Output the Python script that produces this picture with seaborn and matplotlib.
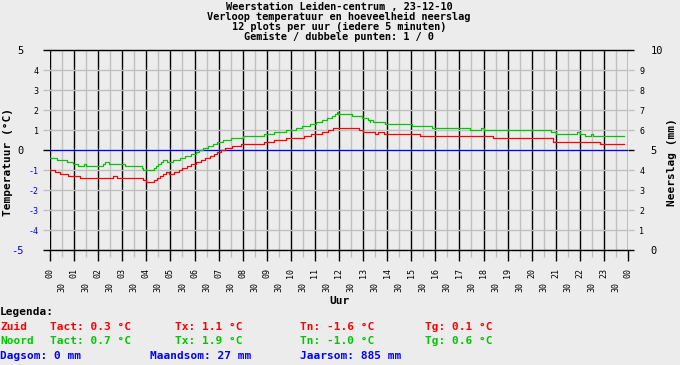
import numpy as np
import pandas as pd
import matplotlib
matplotlib.use('Agg')
import matplotlib.pyplot as plt
import seaborn as sns

# Temperature readings (hour of day, degC)
zuid_uur = [0.0, 0.2, 0.4, 0.75, 1.25, 2.6, 2.8, 3.85, 4.0, 4.3, 4.45, 4.57, 4.7, 4.8, 4.95,
            5.15, 5.35, 5.5, 5.7, 5.85, 6.05, 6.25, 6.45, 6.65, 6.8, 6.95, 7.1, 7.25, 7.55,
            7.95, 8.9, 9.3, 9.8, 10.55, 10.85, 11.3, 11.55, 11.75, 12.85, 13.0, 13.5, 13.6,
            13.85, 15.35, 18.4, 20.9, 22.85, 23.85]
zuid_temp = [-1.0, -1.1, -1.2, -1.3, -1.4, -1.3, -1.4, -1.5, -1.6, -1.5, -1.4, -1.3, -1.2, -1.1, -1.2,
             -1.1, -1.0, -0.9, -0.8, -0.7, -0.6, -0.5, -0.4, -0.3, -0.2, -0.1, 0.0, 0.1, 0.2,
             0.3, 0.4, 0.5, 0.6, 0.7, 0.8, 0.9, 1.0, 1.1, 1.0, 0.9, 0.8, 0.9,
             0.8, 0.7, 0.6, 0.4, 0.3, 0.3]

noord_uur = [0.0, 0.28, 0.69, 0.96, 1.16, 1.42, 1.5, 2.2, 2.3, 2.45, 3.1, 3.8, 3.85, 4.3, 4.4,
             4.5, 4.6, 4.7, 4.85, 5.1, 5.4, 5.6, 5.85, 6.05, 6.2, 6.35, 6.55, 6.75, 6.95, 7.2,
             7.5, 8.0, 8.9, 9.3, 9.8, 10.2, 10.45, 10.8, 11.05, 11.3, 11.5, 11.7, 11.85, 11.9,
             11.97, 12.55, 12.95, 13.2, 13.28, 13.3, 13.4, 13.9, 15.05, 15.85, 17.45, 17.9,
             18.0, 20.8, 21.0, 21.9, 22.0, 22.2, 22.45, 22.55, 23.85]
noord_temp = [-0.4, -0.5, -0.6, -0.7, -0.8, -0.7, -0.8, -0.7, -0.6, -0.7, -0.8, -0.9, -1.0, -0.9, -0.8,
              -0.7, -0.6, -0.5, -0.6, -0.5, -0.4, -0.3, -0.2, -0.1, 0.0, 0.1, 0.2, 0.3, 0.4, 0.5,
              0.6, 0.7, 0.8, 0.9, 1.0, 1.1, 1.2, 1.3, 1.4, 1.5, 1.6, 1.7, 1.8, 1.9,
              1.8, 1.7, 1.6, 1.5, 1.4, 1.5, 1.4, 1.3, 1.2, 1.1, 1.0, 1.1,
              1.0, 0.9, 0.8, 0.9, 0.8, 0.7, 0.8, 0.7, 0.7]

uur_labels = ['%02d' % (h % 24) for h in range(25)]
half_labels = ['30'] * 24
temp_ticks = [-5, -4, -3, -2, -1, 0, 1, 2, 3, 4, 5]
neerslag_ticks = [0, 1, 2, 3, 4, 5, 6, 7, 8, 9, 10]

titel = ['Weerstation Leiden-centrum , 23-12-10',
         'Verloop temperatuur en hoeveelheid neerslag',
         '12 plots per uur (iedere 5 minuten)',
         'Gemiste / dubbele punten: 1 / 0']

RED = '#ff0000'
GREEN = '#00c800'
BLUE = '#0000ff'
BG = '#ececec'
GRID = '#c0c0c0'

plt.rcParams['font.family'] = 'DejaVu Sans Mono'
plt.rcParams['font.weight'] = 'bold'

W, H = 680, 365
fig = plt.figure(figsize=(6.8, 3.65), dpi=100, facecolor=BG)
ax = fig.add_axes([50 / W, 1 - 250 / H, 578 / W, 200 / H])
ax.set_facecolor(BG)

def px(x, y):
    return x / W, 1 - y / H

# grid
ax.set_xlim(0, 24)
ax.set_ylim(-5, 5)
ax.set_xticks(range(25))
ax.set_xticks(np.arange(0.5, 24, 1), minor=True)
ax.set_xticklabels(uur_labels, rotation=90, fontsize=6, fontweight='normal')
ax.set_xticklabels(half_labels, minor=True, rotation=90, fontsize=6, fontweight='normal')
ax.tick_params(axis='x', which='major', length=8, width=1, color='black', pad=5)
ax.tick_params(axis='x', which='minor', length=5, width=1, color=GRID, pad=18)
ax.grid(axis='x', which='major', color='black', lw=1, zorder=1)
ax.grid(axis='x', which='minor', color=GRID, lw=1, zorder=0)

big = [t for t in temp_ticks if t in (-5, 0, 5)]
small = [t for t in temp_ticks if t not in (-5, 0, 5)]
ax.set_yticks(big)
ax.set_yticks(small, minor=True)
ax.set_yticklabels([str(t) for t in big], fontsize=7.5, fontweight='normal')
ax.set_yticklabels([str(t) for t in small], minor=True, fontsize=6, fontweight='normal')
ax.tick_params(axis='y', which='major', length=5, width=1, color='black', pad=14)
ax.tick_params(axis='y', which='minor', length=5, width=1, color=GRID, pad=3)
ax.grid(axis='y', which='both', color=GRID, lw=1, zorder=0)
for lab, t in zip(ax.get_yticklabels(), big):
    lab.set_color(BLUE if t < 0 else 'black')
for lab, t in zip(ax.get_yticklabels(minor=True), small):
    lab.set_color(BLUE if t < 0 else 'black')
ax.set_axisbelow(True)

for s in ['left', 'right']:
    ax.spines[s].set_visible(False)
for s in ['top', 'bottom']:
    ax.spines[s].set_color('black')
    ax.spines[s].set_linewidth(1)

ax.axhline(0, color=BLUE, lw=0.9, zorder=3)

sns.lineplot(x=noord_uur, y=noord_temp, drawstyle='steps-post', color=GREEN, lw=0.9,
             ax=ax, zorder=4)
sns.lineplot(x=zuid_uur, y=zuid_temp, drawstyle='steps-post', color=RED, lw=0.9,
             ax=ax, zorder=5)
ax.set_xlabel('')
ax.set_ylabel('')

# right axis (neerslag)
ax2 = ax.twinx()
ax2.set_ylim(0, 10)
big2 = [t for t in neerslag_ticks if t in (0, 5, 10)]
small2 = [t for t in neerslag_ticks if t not in (0, 5, 10)]
ax2.set_yticks(big2)
ax2.set_yticks(small2, minor=True)
ax2.set_yticklabels([str(t) for t in big2], fontsize=7.5, fontweight='normal')
ax2.set_yticklabels([str(t) for t in small2], minor=True, fontsize=6, fontweight='normal')
ax2.tick_params(axis='y', which='major', length=4, width=1, color='black', pad=12)
ax2.tick_params(axis='y', which='minor', length=4, width=1, color=GRID, pad=4)
for s in ax2.spines.values():
    s.set_visible(False)

# texts
for i, line in enumerate(titel):
    fig.text(*px(339, 7 + 10 * i), line, ha='center', va='center', fontsize=7.4)
fig.text(*px(8, 162), 'Temperatuur (°C)', rotation=90, ha='center', va='center', fontsize=8)
fig.text(*px(672, 162), 'Neerslag (mm)', rotation=90, ha='center', va='center', fontsize=8)
fig.text(*px(339, 301), 'Uur', ha='center', va='center', fontsize=8)

fs = 8
fig.text(*px(0, 312), 'Legenda:', ha='left', va='center', fontsize=fs)
rows = [(327, RED, 'Zuid', 'Tact: 0.3 °C', 'Tx: 1.1 °C', 'Tn: -1.6 °C', 'Tg: 0.1 °C'),
        (341, GREEN, 'Noord', 'Tact: 0.7 °C', 'Tx: 1.9 °C', 'Tn: -1.0 °C', 'Tg: 0.6 °C')]
for y, c, naam, a, b, d, e in rows:
    for x, t in zip([0, 50, 175, 300, 425], [naam, a, b, d, e]):
        fig.text(*px(x, y), t, color=c, ha='left', va='center', fontsize=fs)
for x, t in zip([0, 150, 300], ['Dagsom: 0 mm', 'Maandsom: 27 mm', 'Jaarsom: 885 mm']):
    fig.text(*px(x, 356), t, color=BLUE, ha='left', va='center', fontsize=fs)

fig.savefig('out.png', dpi=100, facecolor=BG)
